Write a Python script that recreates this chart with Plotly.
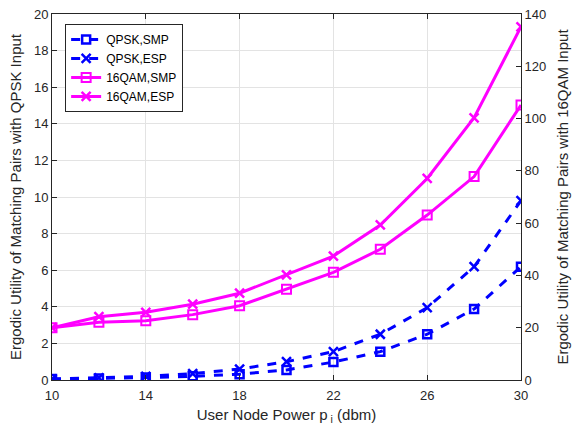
import plotly.graph_objects as go

power = [10, 12, 14, 16, 18, 20, 22, 24, 26, 28, 30]
qpsk_smp = [0.05, 0.08, 0.13, 0.2, 0.32, 0.55, 0.98, 1.55, 2.5, 3.88, 6.19]
qpsk_esp = [0.05, 0.12, 0.2, 0.35, 0.6, 1.0, 1.55, 2.5, 3.95, 6.19, 9.8]
qam_smp = [20.0, 22.1, 22.7, 25.0, 28.4, 34.7, 41.2, 50.0, 63.1, 77.8, 105.2]
qam_esp = [20.0, 24.2, 25.9, 29.0, 33.2, 40.2, 47.4, 59.3, 77.1, 100.3, 135.1]
x_ticks = [10, 14, 18, 22, 26, 30]
y1_ticks = list(range(0, 21, 2))
y2_ticks = list(range(0, 141, 20))

BLUE = "#0000FF"
MAG = "#FF00FF"
AX = "#262626"
FONT = "Liberation Sans, Arial, sans-serif"

fig = go.Figure()
fig.add_trace(go.Scatter(x=power, y=qpsk_smp, name="QPSK,SMP", mode="lines+markers",
                         line=dict(color=BLUE, width=3, dash="dash"),
                         marker=dict(symbol="square-open", size=8, color=BLUE, line=dict(width=2.5, color=BLUE))))
fig.add_trace(go.Scatter(x=power, y=qpsk_esp, name="QPSK,ESP", mode="lines+markers",
                         line=dict(color=BLUE, width=3, dash="dash"),
                         marker=dict(symbol="x-thin-open", size=9, color=BLUE, line=dict(width=2.5, color=BLUE))))
fig.add_trace(go.Scatter(x=power, y=qam_smp, name="16QAM,SMP", mode="lines+markers", yaxis="y2",
                         line=dict(color=MAG, width=3),
                         marker=dict(symbol="square-open", size=9, color=MAG, line=dict(width=2, color=MAG))))
fig.add_trace(go.Scatter(x=power, y=qam_esp, name="16QAM,ESP", mode="lines+markers", yaxis="y2",
                         line=dict(color=MAG, width=3),
                         marker=dict(symbol="x-thin-open", size=9, color=MAG, line=dict(width=2.5, color=MAG))))

fig.update_layout(
    width=573, height=430,
    margin=dict(l=52, r=52, t=14, b=50),
    paper_bgcolor="white", plot_bgcolor="white",
    font=dict(family=FONT, size=13, color=AX),
    showlegend=True,
    legend=dict(x=0.028, y=0.973, xanchor="left", yanchor="top",
                bgcolor="white", bordercolor=AX, borderwidth=1,
                font=dict(size=12, color="black"), tracegroupgap=0,
                itemwidth=30),
    xaxis=dict(range=[10, 30], tickvals=x_ticks, showgrid=True, gridcolor="#e3e3e3", gridwidth=1,
               showline=True, linecolor=AX, linewidth=1, mirror="ticks", automargin=False,
               ticks="inside", ticklen=5, tickcolor=AX, zeroline=False, ticklabelstandoff=3,
               title=dict(text="User Node Power p<sub> i</sub> (dbm)", font=dict(size=15), standoff=7)),
    yaxis=dict(range=[0, 20], tickvals=y1_ticks, showgrid=True, gridcolor="#e3e3e3", gridwidth=1,
               showline=True, linecolor=AX, linewidth=1, automargin=False,
               ticks="inside", ticklen=5, tickcolor=AX, zeroline=False,
               title=dict(text="Ergodic Utility of Matching Pairs with QPSK Input", font=dict(size=15), standoff=8)),
    yaxis2=dict(range=[0, 140], tickvals=y2_ticks, overlaying="y", side="right", showgrid=False,
                showline=True, linecolor=AX, linewidth=1, automargin=False,
                ticks="inside", ticklen=5, tickcolor=AX, zeroline=False,
                title=dict(text="Ergodic Utility of Matching Pairs with 16QAM Input", font=dict(size=15), standoff=12)),
)

fig.write_html("out.html")
